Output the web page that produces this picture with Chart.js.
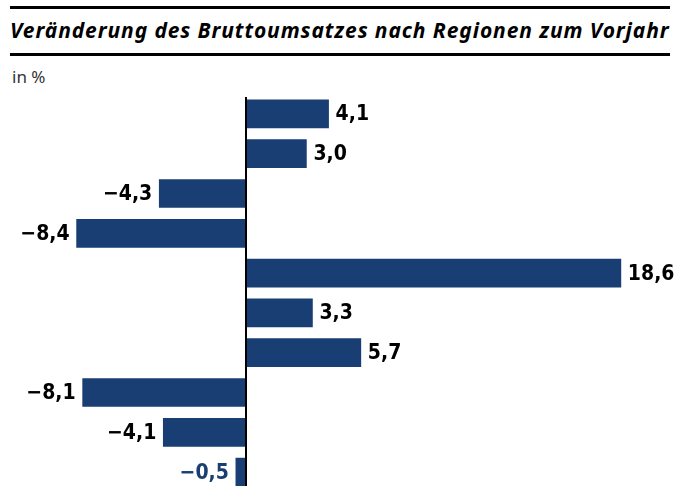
<!DOCTYPE html>
<html>
<head>
<meta charset="utf-8">
<script src="https://cdn.jsdelivr.net/npm/chart.js@4.4.1/dist/chart.umd.min.js"></script>
<style>
    html, body { margin: 0; padding: 0; overflow: hidden; background: #fff; }
    #wrap { position: relative; width: 688px; height: 492px; }
    .rule { position: absolute; left: 10px; width: 660px; height: 3px; background: #000; }
    #title {
        position: absolute; left: 10px; top: 16px; margin: 0;
        font: italic bold 21px "Noto Sans", sans-serif; letter-spacing: 0.9px;
        color: #000; white-space: nowrap;
    }
    #unit { position: absolute; left: 12px; top: 65px; font: 17px "Noto Sans", sans-serif; color: #333; }
    #chart-box { position: absolute; left: 0; top: 0; width: 688px; height: 492px; }
</style>
</head>
<body>
<div id="wrap">
    <div class="rule" style="top:6px"></div>
    <h1 id="title">Veränderung des Bruttoumsatzes nach Regionen zum Vorjahr</h1>
    <div class="rule" style="top:53px"></div>
    <div id="unit">in %</div>
    <div id="chart-box"><canvas id="myChart"></canvas></div>
</div>
<script>
// one bar per region, top to bottom
const regions = ["R1", "R2", "R3", "R4", "R5", "R6", "R7", "R8", "R9", "R10"];
const changes = [4.1, 3.0, -4.3, -8.4, 18.6, 3.3, 5.7, -8.1, -4.1, -0.5];
const labelColors = ["#000", "#000", "#000", "#000", "#000", "#000", "#000", "#000", "#000", "#193e73"];

const barBlue = "#193e73";

function fmt(v){
    let s = Math.abs(v).toFixed(1).replace(".", ",");
    return v < 0 ? "\u2212" + s : s;
}

// value labels next to the bar ends
const valueLabels = {
    id: "valueLabels",
    afterDatasetsDraw(chart){
        const c = chart.ctx;
        const meta = chart.getDatasetMeta(0);
        c.save();
        c.font = "bold 21px 'DejaVu Sans Condensed', 'DejaVu Sans', sans-serif";
        c.textBaseline = "middle";
        meta.data.forEach((bar, i) => {
            const v = changes[i];
            c.fillStyle = labelColors[i];
            if(v >= 0){
                c.textAlign = "left";
                c.fillText(fmt(v), bar.x + 7, bar.y + 1);
            } else {
                c.textAlign = "right";
                c.fillText(fmt(v), bar.x - 7, bar.y + 1);
            }
        });
        c.restore();
    }
};

// black zero line
const zeroLine = {
    id: "zeroLine",
    afterDatasetsDraw(chart){
        const c = chart.ctx;
        const x = Math.round(chart.scales.x.getPixelForValue(0));
        c.save();
        c.strokeStyle = "#000";
        c.lineWidth = 2;
        c.beginPath();
        c.moveTo(x, chart.chartArea.top + 3);
        c.lineTo(x, chart.chartArea.bottom + 10);
        c.stroke();
        c.restore();
    }
};

let ctx = document.getElementById("myChart");
let myChart = new Chart(ctx, {
    type: "bar",
    data: {
        labels: regions,
        datasets: [{
            data: changes,
            backgroundColor: barBlue,
            borderWidth: 0,
            barThickness: 28
        }]
    },
    options: {
        indexAxis: "y",
        responsive: true,
        maintainAspectRatio: false,
        animation: false,
        layout: { padding: { top: 94, left: 0, right: 0, bottom: 0 } },
        plugins: {
            legend: { display: false },
            tooltip: { enabled: false }
        },
        scales: {
            x: { display: false, min: -12.2, max: 21.93 },
            y: { display: false }
        }
    },
    plugins: [valueLabels, zeroLine]
});
</script>
</body>
</html>
